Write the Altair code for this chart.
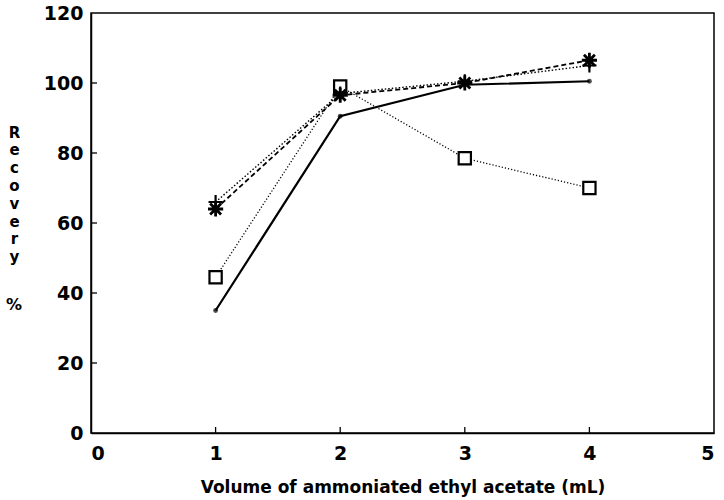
import altair as alt
import pandas as pd

# Data
volume = [1, 2, 3, 4]
solid_dots = [35, 90.5, 99.5, 100.5]
squares = [44.5, 99, 78.5, 70]
stars = [64, 96.5, 100, 106.5]
pluses = [66, 97, 100.5, 105]

x_ticks = [1, 2, 3, 4]
y_ticks = [20, 40, 60, 80, 100]
y_title_lines = ["R", "e", "c", "o", "v", "e", "r", "y"]
y_title_unit = ["%"]

FONT = "DejaVu Sans"

def frame(vals):
    return pd.DataFrame({"v": volume, "r": vals})

xscale = alt.Scale(domain=[0, 5], nice=False, zero=False)
yscale = alt.Scale(domain=[0, 120], nice=False)

X = alt.X("v:Q", scale=xscale,
          axis=alt.Axis(values=[0, 1, 2, 3, 4, 5], format="d",
                        title="Volume of ammoniated ethyl acetate (mL)",
                        titleY=46, titleBaseline="top"))
Y = alt.Y("r:Q", scale=yscale,
          axis=alt.Axis(values=[0, 20, 40, 60, 80, 100, 120], format="d",
                        title=y_title_lines,
                        titleAngle=0, titleAlign="center", titleBaseline="top",
                        titleX=-77, titleY=112, titleLineHeight=17.8,
                        titleFontSize=15))

star_path = "M-1,0L1,0M0,-1L0,1M-0.72,-0.72L0.72,0.72M-0.72,0.72L0.72,-0.72"
plus_path = "M-1,0L1,0M0,-1L0,1"

base_solid = alt.Chart(frame(solid_dots))
solid_line = base_solid.mark_line(color="black", strokeWidth=2.2).encode(x=X, y=Y)
solid_pts = base_solid.mark_point(shape="circle", filled=True, color="black", size=24).encode(x=X, y=Y)

base_sq = alt.Chart(frame(squares))
sq_line = base_sq.mark_line(color="black", strokeWidth=1.3, strokeDash=[1.2, 2]).encode(x=X, y=Y)
sq_pts = base_sq.mark_point(shape="square", filled=True, fill="white", stroke="black",
                            strokeWidth=2.2, size=150, opacity=1).encode(x=X, y=Y)

base_st = alt.Chart(frame(stars))
st_line = base_st.mark_line(color="black", strokeWidth=1.8, strokeDash=[5, 3]).encode(x=X, y=Y)
st_pts = base_st.mark_point(shape=star_path, filled=False, color="black", opacity=1,
                            strokeWidth=2.8, size=230).encode(x=X, y=Y)

base_pl = alt.Chart(frame(pluses))
pl_line = base_pl.mark_line(color="black", strokeWidth=1.4, strokeDash=[1.5, 2]).encode(x=X, y=Y)
pl_pts = base_pl.mark_point(shape=plus_path, filled=False, color="black", opacity=1,
                            strokeWidth=2.2, size=200).encode(x=X, y=Y)

xt = alt.Chart(pd.DataFrame({"t": x_ticks})).mark_rule(color="black", strokeWidth=1.3).encode(
    x=alt.X("t:Q", scale=xscale), y=alt.value(420), y2=alt.value(414))
yt = alt.Chart(pd.DataFrame({"t": y_ticks})).mark_rule(color="black", strokeWidth=1.3).encode(
    y=alt.Y("t:Q", scale=yscale), x=alt.value(0), x2=alt.value(6))

unit = alt.Chart(pd.DataFrame({"u": y_title_unit})).mark_text(
    font=FONT, fontSize=16, fontWeight="bold", color="black", align="center", baseline="middle"
).encode(text="u:N", x=alt.value(-77), y=alt.value(292))

chart = alt.layer(
    xt, yt,
    sq_line, pl_line, st_line, solid_line,
    solid_pts, sq_pts, pl_pts, st_pts,
    unit,
).properties(
    width=623, height=420,
    autosize=alt.AutoSizeParams(type="none"),
    padding={"left": 91, "top": 13, "right": 10, "bottom": 67},
).configure_view(
    stroke="black", strokeWidth=1.5
).configure_axis(
    grid=False, ticks=False, domainColor="black", domainWidth=1.5,
    labelFont=FONT, labelFontSize=19, labelFontWeight="bold", labelColor="black",
    titleFont=FONT, titleFontSize=17, titleFontWeight="bold", titleColor="black",
    labelPadding=8,
).configure_axisX(labelPadding=11)

chart.save("out.html", embed_options={"renderer": "svg", "actions": False})
